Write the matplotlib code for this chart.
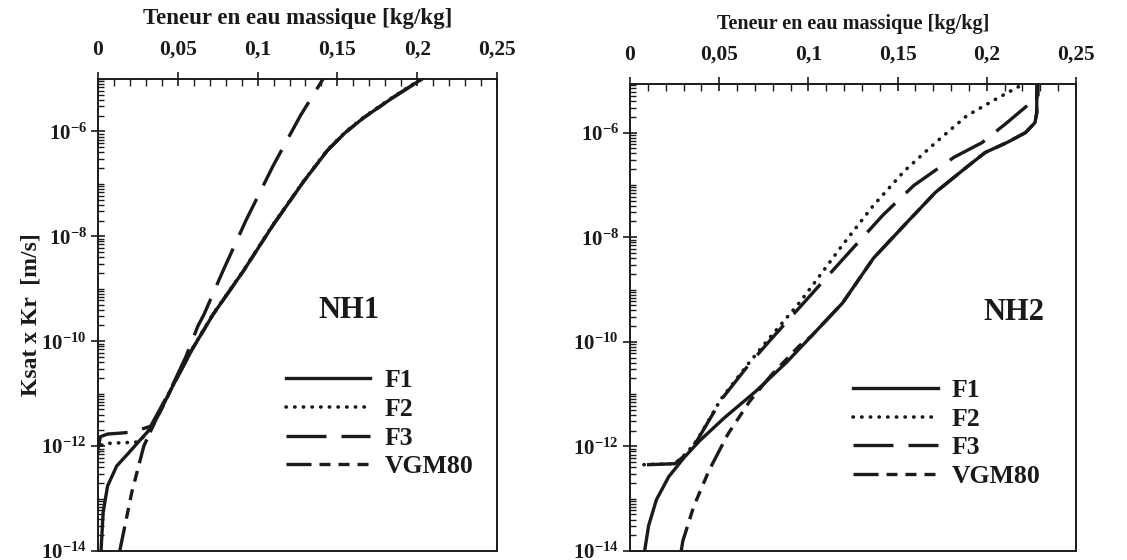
import numpy as np
import matplotlib
matplotlib.use("Agg")
import matplotlib.pyplot as plt
from matplotlib.ticker import FixedLocator, LogLocator, MultipleLocator, NullFormatter

plt.rcParams["font.family"] = ["Liberation Serif", "DejaVu Serif"]
plt.rcParams["font.weight"] = "bold"
plt.rcParams["mathtext.fontset"] = "custom"
plt.rcParams["mathtext.rm"] = "Liberation Serif:bold"
plt.rcParams["mathtext.bf"] = "Liberation Serif:bold"
plt.rcParams["mathtext.it"] = "Liberation Serif:bold:italic"

# Axis ticks
x_ticks = [0, 0.05, 0.1, 0.15, 0.2, 0.25]
x_tick_labels = ["0", "0,05", "0,1", "0,15", "0,2", "0,25"]
y_tick_exps = [-14, -12, -10, -8, -6]

series_names = ["F1", "F2", "F3", "VGM80"]

# ---- NH1: water content [kg/kg] and log10 of Ksat x Kr [m/s] ----
nh1_f1_w = [0.0019, 0.0032, 0.006, 0.0117, 0.0192, 0.0268, 0.0343, 0.0457, 0.0589,
            0.0721, 0.0909, 0.1098, 0.1287, 0.1438, 0.1550, 0.1664, 0.1850, 0.2030]
nh1_f1_logk = [-14.0, -13.27, -12.76, -12.38, -12.13, -11.87, -11.62, -10.92, -10.16,
               -9.49, -8.67, -7.78, -6.96, -6.36, -6.02, -5.74, -5.35, -5.0]

nh1_f2_w = [0.0, 0.001, 0.004, 0.012, 0.020, 0.025, 0.028, 0.0343, 0.0457, 0.0589,
            0.0721, 0.0909, 0.1098, 0.1287, 0.1438, 0.1550, 0.1664, 0.1850, 0.2030]
nh1_f2_logk = [-12.12, -12.0, -11.95, -11.94, -11.93, -11.92, -11.84, -11.61, -10.91, -10.15,
               -9.48, -8.66, -7.77, -6.95, -6.35, -6.01, -5.73, -5.34, -4.99]

nh1_f3_w = [0.0, 0.0015, 0.006, 0.015, 0.022, 0.033, 0.045, 0.055, 0.0626, 0.0664,
            0.0777, 0.0928, 0.1098, 0.1268, 0.141]
nh1_f3_logk = [-12.05, -11.82, -11.77, -11.75, -11.73, -11.62, -10.95, -10.3, -9.71, -9.49,
               -8.70, -7.69, -6.65, -5.70, -5.0]

nh1_vgm_w = [0.0136, 0.0211, 0.0287, 0.0353, 0.0419, 0.0466, 0.0530, 0.0589, 0.0721,
             0.0909, 0.1098, 0.1287, 0.1438, 0.1550, 0.1664, 0.1850, 0.2030]
nh1_vgm_logk = [-14.0, -12.89, -12.0, -11.56, -11.17, -10.86, -10.50, -10.16, -9.49,
                -8.67, -7.78, -6.96, -6.36, -6.02, -5.74, -5.35, -5.0]

# ---- NH2 ----
nh2_f1_w = [0.0082, 0.0104, 0.0148, 0.0217, 0.0304, 0.0391, 0.053, 0.0704, 0.0878,
            0.1017, 0.1191, 0.1365, 0.1557, 0.1713, 0.1887, 0.1991, 0.2113, 0.2217,
            0.2270, 0.2280, 0.2280]
nh2_f1_logk = [-14.0, -13.52, -13.02, -12.58, -12.21, -11.89, -11.45, -10.95, -10.39,
               -9.89, -9.26, -8.40, -7.70, -7.14, -6.66, -6.38, -6.19, -6.0,
               -5.81, -5.62, -5.0]

nh2_f2_w = [0.0078, 0.015, 0.0252, 0.0322, 0.0374, 0.0513, 0.067, 0.0791, 0.0948,
            0.1017, 0.1191, 0.1365, 0.1539, 0.1713, 0.1887, 0.2061, 0.2217, 0.2280]
nh2_f2_logk = [-12.35, -12.34, -12.33, -12.11, -11.89, -11.08, -10.39, -9.89, -9.26,
               -8.95, -8.15, -7.39, -6.73, -6.19, -5.68, -5.34, -5.05, -4.98]

nh2_f3_w = [0.0095, 0.018, 0.0252, 0.0322, 0.0374, 0.0513, 0.067, 0.0791, 0.0983,
            0.1191, 0.1417, 0.1591, 0.1817, 0.1974, 0.2113, 0.2235, 0.2287, 0.2287]
nh2_f3_logk = [-12.35, -12.34, -12.33, -12.13, -11.90, -11.10, -10.42, -9.95, -9.22,
               -8.43, -7.58, -7.01, -6.47, -6.19, -5.81, -5.46, -5.34, -5.0]

nh2_vgm_w = [0.0287, 0.0296, 0.0357, 0.0443, 0.0548, 0.067, 0.0791, 0.0878, 0.0948,
             0.1017, 0.1191, 0.1365, 0.1557, 0.1713, 0.1887, 0.1991, 0.2113, 0.2217,
             0.2270, 0.2280, 0.2280]
nh2_vgm_logk = [-14.0, -13.81, -13.15, -12.46, -11.77, -11.14, -10.64, -10.33, -10.08,
                -9.89, -9.26, -8.40, -7.70, -7.14, -6.66, -6.38, -6.19, -6.0,
                -5.81, -5.62, -5.0]

line_styles = {
    "F1": dict(linestyle="-", linewidth=2.4),
    "F2": dict(linestyle=(0, (0.1, 2.3)), linewidth=2.6, dash_capstyle="round"),
    "F3": dict(linestyle=(0, (12, 4.5)), linewidth=2.4),
    "VGM80": dict(linestyle=(0, (7.5, 2.4, 3.3, 2.4, 3.3, 2.4, 3.3, 2.4)), linewidth=2.4),
}

ink = "#1a1a1a"

fig = plt.figure(figsize=(11.27, 5.6), dpi=100)
ax1 = fig.add_axes([98 / 1127, 1 - 551 / 560, 399 / 1127, 472 / 560])
ax2 = fig.add_axes([630 / 1127, 1 - 551 / 560, 446 / 1127, 467 / 560])


def style_axes(ax, y_top, title_size, title_pad):
    ax.set_yscale("log")
    ax.set_xlim(0, 0.25)
    ax.set_ylim(1e-14, y_top)
    ax.xaxis.set_ticks_position("top")
    ax.xaxis.set_label_position("top")
    ax.xaxis.set_major_locator(FixedLocator(x_ticks))
    ax.set_xticklabels(x_tick_labels)
    ax.xaxis.set_minor_locator(MultipleLocator(0.01))
    ax.yaxis.set_major_locator(FixedLocator([10.0 ** e for e in y_tick_exps]))
    ax.set_yticklabels([r"$\mathbf{10^{%d}}$" % e for e in y_tick_exps])
    ax.yaxis.set_minor_locator(LogLocator(base=10, subs=np.arange(1, 10), numticks=40))
    ax.yaxis.set_minor_formatter(NullFormatter())
    ax.tick_params(which="major", direction="inout", length=10, width=1.2,
                   colors=ink)
    ax.tick_params(axis="x", which="major", labelsize=15.5, pad=9)
    ax.tick_params(axis="y", which="major", labelsize=15, pad=3)
    ax.tick_params(which="minor", direction="in", length=5, width=1.0, colors=ink)
    ax.tick_params(axis="y", which="minor", length=4)
    for lab in ax.get_xticklabels() + ax.get_yticklabels():
        lab.set_fontweight("bold")
    for sp in ax.spines.values():
        sp.set_linewidth(1.4)
        sp.set_color(ink)
    ax.set_xlabel("Teneur en eau massique [kg/kg]", fontsize=title_size,
                  fontweight="bold", color=ink, labelpad=title_pad)


def draw_panel(ax, data, name, name_xy, legend_anchor):
    handles = []
    for key, (w, logk) in zip(series_names, data):
        ln, = ax.plot(w, np.power(10.0, logk), color=ink, label=key, **line_styles[key])
        handles.append(ln)
    ax.text(name_xy[0], name_xy[1], name, transform=ax.transAxes, fontsize=22,
            fontweight="bold", color=ink, ha="center", va="center")
    leg = ax.legend(handles=handles, loc="upper left", bbox_to_anchor=legend_anchor,
                    frameon=False, fontsize=18.5, handlelength=3.3, handletextpad=0.55,
                    labelspacing=0.22, borderaxespad=0, borderpad=0)
    for t in leg.get_texts():
        t.set_fontweight("bold")
        t.set_color(ink)


style_axes(ax1, 1e-5, 16.5, 11)
style_axes(ax2, 8.5e-6, 14.5, 11)

draw_panel(ax1,
           [(nh1_f1_w, nh1_f1_logk), (nh1_f2_w, nh1_f2_logk),
            (nh1_f3_w, nh1_f3_logk), (nh1_vgm_w, nh1_vgm_logk)],
           "NH1", (0.63, 0.51), (0.47, 0.385))
draw_panel(ax2,
           [(nh2_f1_w, nh2_f1_logk), (nh2_f2_w, nh2_f2_logk),
            (nh2_f3_w, nh2_f3_logk), (nh2_vgm_w, nh2_vgm_logk)],
           "NH2", (0.86, 0.51), (0.50, 0.368))

ax1.set_ylabel("Ksat x Kr  [m/s]", fontsize=17, fontweight="bold", color=ink, labelpad=0)

fig.savefig("out.png", dpi=100, facecolor="white")
